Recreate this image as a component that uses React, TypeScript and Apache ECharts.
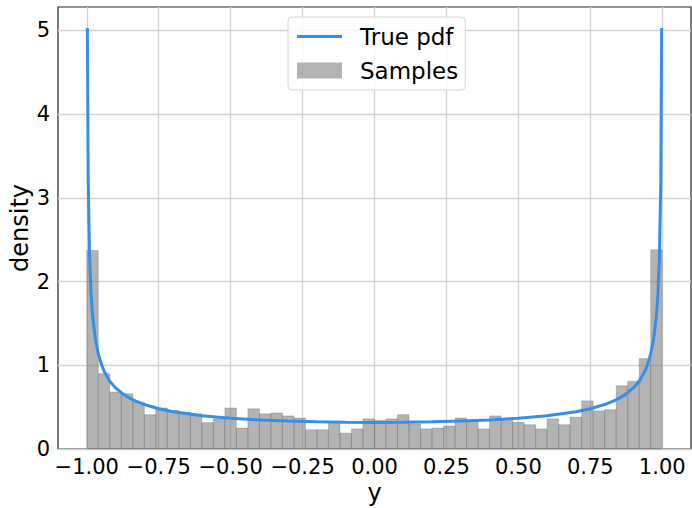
import React, { useEffect, useRef } from "react";
import * as echarts from "echarts";

// Histogram of samples: 50 bins of width 0.04 on [-1, 1]
const BIN_START = -1.0;
const BIN_WIDTH = 0.04;
const sampleDensity = [
  2.37, 0.9, 0.68, 0.66, 0.56, 0.41, 0.49, 0.46, 0.44, 0.42,
  0.315, 0.36, 0.49, 0.25, 0.48, 0.42, 0.43, 0.395, 0.37, 0.23,
  0.23, 0.32, 0.19, 0.24, 0.36, 0.34, 0.36, 0.41, 0.3, 0.24,
  0.25, 0.275, 0.37, 0.335, 0.24, 0.395, 0.36, 0.32, 0.29, 0.24,
  0.36, 0.29, 0.38, 0.575, 0.455, 0.47, 0.755, 0.81, 1.08, 2.38,
];

// True pdf curve
const pdfX = [
  -0.998, -0.995, -0.99, -0.985, -0.98, -0.97, -0.96, -0.95, -0.94, -0.92,
  -0.9, -0.87, -0.84, -0.8, -0.75, -0.7, -0.6, -0.5, -0.4, -0.3, -0.2, -0.1,
  0.0,
  0.1, 0.2, 0.3, 0.4, 0.5, 0.6, 0.7, 0.75, 0.8, 0.84, 0.87, 0.9,
  0.92, 0.94, 0.95, 0.96, 0.97, 0.98, 0.985, 0.99, 0.995, 0.998,
];
const pdfY = [
  5.03, 3.19, 2.26, 1.85, 1.6, 1.31, 1.14, 1.02, 0.93, 0.81,
  0.73, 0.646, 0.587, 0.531, 0.481, 0.446, 0.398, 0.368, 0.347, 0.334, 0.325, 0.32,
  0.318,
  0.32, 0.325, 0.334, 0.347, 0.368, 0.398, 0.446, 0.481, 0.531, 0.587, 0.646, 0.73,
  0.81, 0.93, 1.02, 1.14, 1.31, 1.6, 1.85, 2.26, 3.19, 5.03,
];

const xTicks = [-1.0, -0.75, -0.5, -0.25, 0.0, 0.25, 0.5, 0.75, 1.0];
const yTicks = [0, 1, 2, 3, 4, 5];

const FONT = "DejaVu Sans";
const LINE_COLOR = "#3390ea";
const BAR_COLOR = "rgba(128,128,128,0.6)";

export default function App() {
  const ref = useRef<HTMLDivElement>(null);
  useEffect(() => {
    document.body.style.margin = "0";
    if (!ref.current) return;
    const chart = echarts.init(ref.current, undefined, { renderer: "svg" });
    const histData = sampleDensity.map((h, i) => [
      BIN_START + i * BIN_WIDTH,
      BIN_START + (i + 1) * BIN_WIDTH,
      h,
    ]);
    const lineData = pdfX.map((x, i) => [x, pdfY[i]]);
    chart.setOption({
      animation: false,
      backgroundColor: "#fff",
      textStyle: { fontFamily: FONT },
      grid: {
        left: 58,
        right: 1,
        top: 7,
        bottom: 59,
        containLabel: false,
        outerBoundsMode: "none",
        show: true,
        borderColor: "#262626",
        borderWidth: 1.2,
        backgroundColor: "transparent",
      },
      legend: {
        orient: "vertical",
        left: 288,
        top: 17,
        padding: [8, 7, 8, 9],
        itemWidth: 45,
        itemHeight: 16,
        itemGap: 11,
        backgroundColor: "rgba(255,255,255,0.8)",
        borderColor: "#d6d6d6",
        borderWidth: 1,
        borderRadius: 4,
        textStyle: {
          fontFamily: FONT,
          fontSize: 23,
          color: "#000",
          lineHeight: 22,
          padding: [0, 0, 0, 13],
        },
        data: [
          {
            name: "True pdf",
            icon: "path://M0,0 L45,0 L45,3 L0,3 Z",
            itemStyle: { color: LINE_COLOR },
          },
          { name: "Samples", icon: "rect", itemStyle: { color: BAR_COLOR } },
        ],
      },
      xAxis: {
        type: "value",
        min: -1.1,
        max: 1.1,
        name: "y",
        nameLocation: "middle",
        nameGap: 32,
        nameMoveOverlap: false,
        nameTextStyle: { fontFamily: FONT, fontSize: 24, color: "#000" },
        axisLine: { show: false },
        axisTick: { show: false, customValues: xTicks },
        axisLabel: {
          customValues: xTicks,
          margin: 7,
          fontFamily: FONT,
          fontSize: 21,
          color: "#000",
          formatter: (v: number) => {
            const s = Math.abs(v).toFixed(2);
            return v < -1e-9 ? "\u2212" + s : s;
          },
        },
        splitLine: { show: true, lineStyle: { color: "#d3d3d3", width: 1.3 } },
      },
      yAxis: {
        type: "value",
        min: 0,
        max: 5.28,
        name: "density",
        nameLocation: "middle",
        nameGap: 26,
        nameMoveOverlap: false,
        nameTextStyle: { fontFamily: FONT, fontSize: 24, color: "#000" },
        axisLine: { show: false },
        axisTick: { show: false, customValues: yTicks },
        axisLabel: {
          customValues: yTicks,
          margin: 8,
          fontFamily: FONT,
          fontSize: 21,
          color: "#000",
        },
        splitLine: { show: true, lineStyle: { color: "#d3d3d3", width: 1.3 } },
      },
      series: [
        {
          name: "Samples",
          type: "custom",
          z: 2,
          itemStyle: { color: BAR_COLOR },
          encode: { x: [0, 1], y: 2 },
          data: histData,
          renderItem: (params: any, api: any) => {
            const p0 = api.coord([api.value(0), api.value(2)]);
            const p1 = api.coord([api.value(1), 0]);
            return {
              type: "rect",
              shape: { x: p0[0], y: p0[1], width: p1[0] - p0[0], height: p1[1] - p0[1] },
              style: { fill: BAR_COLOR, stroke: "rgba(90,90,90,0.35)", lineWidth: 0.8 },
            };
          },
        },
        {
          name: "True pdf",
          type: "line",
          z: 3,
          symbol: "none",
          data: lineData,
          lineStyle: { color: LINE_COLOR, width: 3 },
          itemStyle: { color: LINE_COLOR },
        },
      ],
    });
    return () => chart.dispose();
  }, []);
  return <div ref={ref} style={{ width: 692, height: 508 }} />;
}
